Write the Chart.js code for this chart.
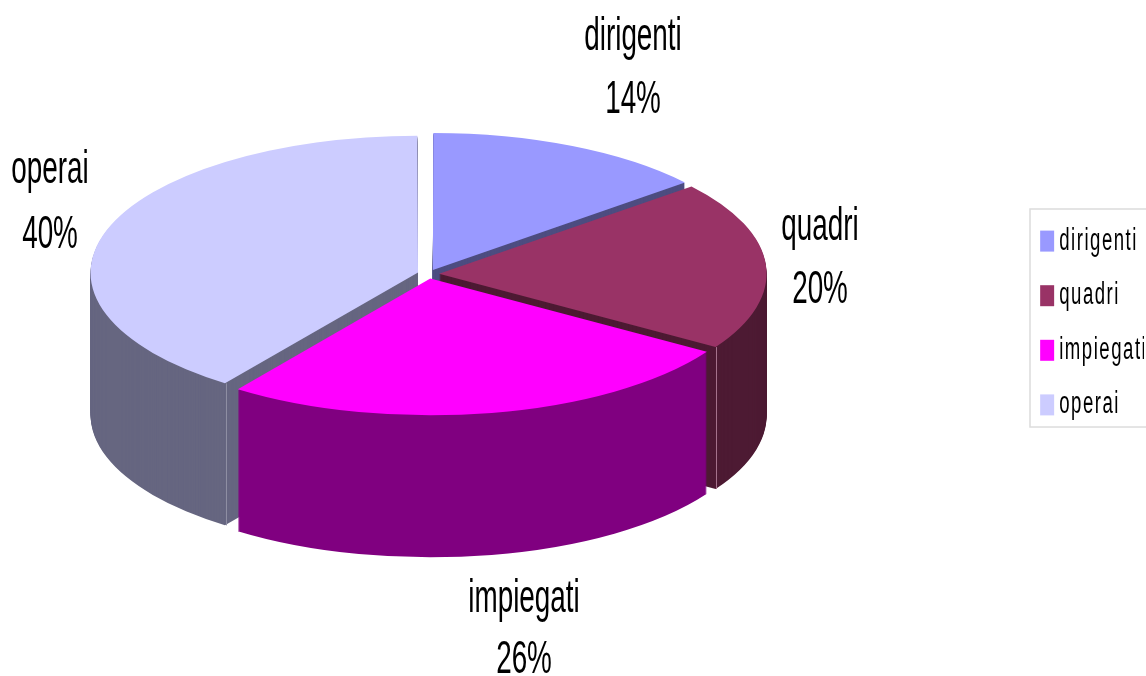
<!DOCTYPE html>
<html>
<head>
<meta charset="utf-8">
<style>html,body{margin:0;padding:0;background:#fff;overflow:hidden}canvas{display:block}</style>
<script src="https://cdn.jsdelivr.net/npm/chart.js@4/dist/chart.umd.js"></script>
</head>
<body>
<canvas id="c" width="1146" height="676"></canvas>
<script>
const categories = ['dirigenti', 'quadri', 'impiegati', 'operai'];
const percentages = [14, 20, 26, 40];
const topColors = ['#9999FF', '#993366', '#FF00FF', '#CCCCFF'];
const sideColors = ['#4D4D80', '#4D1A33', '#800080', '#666680'];

// Layout of the pseudo-3D drawing (screen pixels)
const CX = 428.3, CY = 274, K = 0.418, RADIUS = 327.5, DEPTH = 142, EXPLODE = 10.8;
const LABEL_FONT = 46, LABEL_SX = 0.605;
const labelAnchors = [
  {x: 633, y1: 50, y2: 113},
  {x: 820, y1: 240, y2: 303},
  {x: 524, y1: 612, y2: 673},
  {x: 50, y1: 183, y2: 248}
];
const LEGEND_X = 1026, LEGEND_SX = 0.6;
const sideDrawOrder = [0, 1, 3, 2];

const pie3d = {
  id: 'pie3d',
  afterDatasetsUpdate(chart) {
    // keep one radius for every slice: the library enlarges exploded arcs
    chart.getDatasetMeta(0).data.forEach(a => {
      const fix = 1 - Math.sin(Math.min(Math.PI, a.circumference));
      a.outerRadius = RADIUS - fix * EXPLODE;
    });
  },
  afterLayout(chart) {
    const lg = chart.legend;
    if (lg._wrapped) return;
    lg._wrapped = true;
    const draw = lg.draw;
    lg.draw = function (area) {
      const ctx = chart.ctx;
      ctx.save();
      ctx.strokeStyle = '#DCDCDC';
      ctx.lineWidth = 1.5;
      ctx.strokeRect(1030, 209, 130, 218);
      ctx.translate(LEGEND_X, 0);
      ctx.scale(LEGEND_SX, 1);
      ctx.translate(-lg.left, 0);
      ctx.letterSpacing = '2.5px';
      const ft = ctx.fillText;
      ctx.fillText = function (t, x, y, m) { ft.call(ctx, t, x - 7, y, m); };
      draw.call(lg, area);
      delete ctx.fillText;
      ctx.restore();
    };
  },
  beforeDatasetDraw(chart, args) {
    const ctx = chart.ctx;
    const arcs = chart.getDatasetMeta(args.index).data;
    const a0 = arcs[0];
    const apply = (dy) => {
      ctx.translate(CX, CY + dy);
      ctx.scale(1, K);
      ctx.translate(-a0.x, -a0.y);
    };
    sideDrawOrder.forEach(i => {
      const arc = arcs[i], saved = arc.options;
      arc.options = {...saved, backgroundColor: sideColors[i]};
      for (let d = DEPTH; d > 0; d--) {
        ctx.save();
        apply(d);
        arc.draw(ctx);
        ctx.restore();
      }
      arc.options = saved;
    });
    ctx.save();
    apply(0);
  },
  afterDatasetDraw(chart) {
    chart.ctx.restore();
  },
  afterDatasetsDraw(chart) {
    const ctx = chart.ctx;
    const arcs = chart.getDatasetMeta(0).data;
    const corner = (arc, angle) => {
      const h = (arc.startAngle + arc.endAngle) / 2;
      return {
        x: CX + Math.cos(h) * EXPLODE + RADIUS * Math.cos(angle),
        y: CY + (Math.sin(h) * EXPLODE + RADIUS * Math.sin(angle)) * K
      };
    };
    [[arcs[3], arcs[3].startAngle, '#8E8EA3'], [arcs[1], arcs[1].endAngle, '#A5728C']].forEach(([arc, ang, col]) => {
      const p = corner(arc, ang);
      ctx.save();
      ctx.strokeStyle = col;
      ctx.lineWidth = 1;
      ctx.beginPath();
      ctx.moveTo(Math.round(p.x) + 0.5, p.y);
      ctx.lineTo(Math.round(p.x) + 0.5, p.y + DEPTH);
      ctx.stroke();
      ctx.restore();
    });
    // data labels: category name and percentage
    ctx.save();
    ctx.fillStyle = '#000';
    ctx.textAlign = 'center';
    ctx.textBaseline = 'alphabetic';
    ctx.font = LABEL_FONT + 'px "Liberation Sans", Arial, sans-serif';
    categories.forEach((name, i) => {
      const a = labelAnchors[i];
      [[name, a.y1], [percentages[i] + '%', a.y2]].forEach(([t, y]) => {
        ctx.save();
        ctx.translate(a.x, y);
        ctx.scale(LABEL_SX, 1);
        ctx.fillText(t, 0, 0);
        ctx.restore();
      });
    });
    ctx.restore();
  }
};

new Chart(document.getElementById('c'), {
  type: 'pie',
  data: {
    labels: categories,
    datasets: [{
      data: percentages,
      backgroundColor: topColors,
      borderWidth: 0,
      offset: EXPLODE * 4,
      radius: RADIUS
    }]
  },
  options: {
    responsive: false,
    animation: false,
    events: [],
    layout: {padding: {bottom: 30}},
    plugins: {
      tooltip: {enabled: false},
      legend: {
        position: 'right',
        labels: {
          color: '#000',
          boxWidth: 23.3,
          boxHeight: 21,
          padding: 23.6,
          font: {size: 31, family: '"Liberation Sans", Arial, sans-serif'}
        }
      }
    }
  },
  plugins: [pie3d]
});
</script>
</body>
</html>
